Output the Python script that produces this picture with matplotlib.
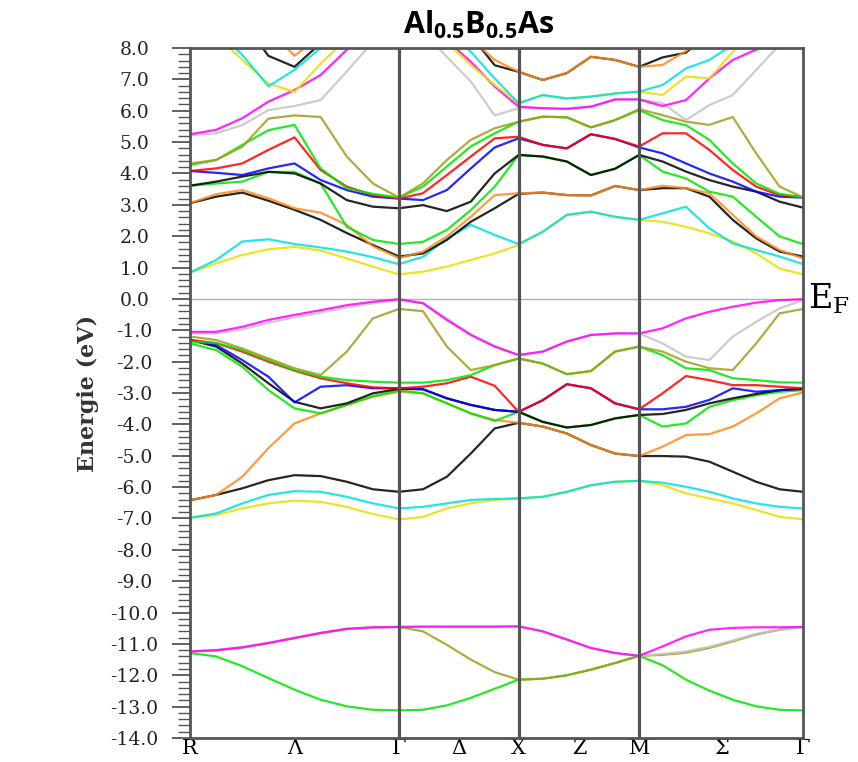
import numpy as np
import matplotlib
matplotlib.use('Agg')
import matplotlib.pyplot as plt
from matplotlib.ticker import MultipleLocator, FormatStrFormatter

plt.rcParams['axes.unicode_minus'] = False
plt.rcParams['mathtext.fontset'] = 'custom'
plt.rcParams['mathtext.rm'] = 'DejaVu Serif'
plt.rcParams['mathtext.bf'] = 'Open Sans:bold'

# high symmetry points and number of k-intervals per segment
k_sym = [0.0, 1.748, 2.748, 3.756, 5.126]
k_labels = ['R', 'Γ', 'X', 'M', 'Γ']
mid_labels = ['Λ', 'Δ', 'Z', 'Σ']
n_seg = [8, 5, 5, 7]

# energies (eV) read along R-G (9 pts), G-X (5), X-M (5), M-G (7)
green1 = [-11.29, -11.40, -11.71, -12.09, -12.46, -12.78, -12.99, -13.10, -13.12,
          -13.10, -12.96, -12.72, -12.43, -12.14,
          -12.11, -12.00, -11.82, -11.61, -11.38,
          -11.68, -12.14, -12.49, -12.78, -12.99, -13.10, -13.12]
olive1 = [-11.24, -11.21, -11.12, -10.98, -10.82, -10.66, -10.53, -10.48, -10.46,
          -10.60, -11.03, -11.50, -11.90, -12.14,
          -12.11, -12.00, -11.82, -11.61, -11.38,
          -11.35, -11.28, -11.13, -10.92, -10.70, -10.55, -10.46]
gray1 = [-11.24, -11.20, -11.11, -10.97, -10.81, -10.65, -10.52, -10.47, -10.46,
         -10.45, -10.45, -10.45, -10.45, -10.44,
         -10.60, -10.86, -11.13, -11.29, -11.38,
         -11.32, -11.24, -11.09, -10.89, -10.68, -10.54, -10.46]
magenta1 = [-11.24, -11.20, -11.11, -10.97, -10.81, -10.65, -10.52, -10.47, -10.46,
            -10.45, -10.45, -10.45, -10.45, -10.44,
            -10.60, -10.86, -11.13, -11.29, -11.38,
            -11.08, -10.76, -10.55, -10.49, -10.47, -10.47, -10.46]

yellow2 = [-6.98, -6.89, -6.68, -6.52, -6.43, -6.47, -6.63, -6.86, -7.03,
           -6.95, -6.68, -6.52, -6.41, -6.36,
           -6.31, -6.15, -5.94, -5.83, -5.80,
           -5.94, -6.20, -6.36, -6.52, -6.73, -6.95, -7.03]
cyan2 = [-6.98, -6.84, -6.52, -6.25, -6.13, -6.15, -6.31, -6.52, -6.68,
         -6.63, -6.52, -6.41, -6.38, -6.36,
         -6.31, -6.15, -5.94, -5.83, -5.80,
         -5.86, -5.99, -6.15, -6.36, -6.52, -6.63, -6.68]
black2 = [-6.42, -6.25, -6.04, -5.78, -5.62, -5.65, -5.83, -6.07, -6.15,
          -6.07, -5.67, -4.93, -4.13, -3.95,
          -4.07, -4.29, -4.66, -4.93, -5.01,
          -5.01, -5.03, -5.19, -5.51, -5.83, -6.07, -6.15]
orange2 = [-6.42, -6.25, -5.67, -4.76, -3.97, -3.65, -3.38, -3.12, -2.96,
           -3.01, -3.33, -3.65, -3.86, -3.95,
           -4.07, -4.29, -4.66, -4.93, -5.01,
           -4.71, -4.34, -4.31, -4.07, -3.65, -3.17, -2.98]
green2_lo = [-1.42, -1.63, -2.16, -2.91, -3.49, -3.65, -3.38, -3.10, -2.92,
             -3.01, -3.33, -3.65, -3.89, -3.60,
             -3.92, -4.10, -4.02, -3.81, -3.70,
             -4.07, -3.97, -3.44, -3.23, -3.07, -2.96, -2.91]
black2_mid = [-1.31, -1.52, -2.06, -2.69, -3.28, -3.49, -3.33, -3.01, -2.87,
              -2.88, -3.17, -3.38, -3.54, -3.60,
              -3.92, -4.10, -4.02, -3.81, -3.70,
              -3.67, -3.54, -3.33, -3.17, -3.03, -2.91, -2.87]
blue2 = [-1.31, -1.47, -1.95, -2.48, -3.30, -2.80, -2.75, -2.85, -2.85,
         -2.88, -3.17, -3.38, -3.54, -3.60,
         -3.23, -2.72, -2.85, -3.33, -3.52,
         -3.52, -3.44, -3.22, -2.85, -2.96, -2.91, -2.85]
red2 = [-1.31, -1.41, -1.68, -2.00, -2.29, -2.53, -2.69, -2.82, -2.85,
        -2.80, -2.69, -2.48, -2.77, -3.60,
        -3.23, -2.72, -2.85, -3.33, -3.52,
        -3.01, -2.46, -2.59, -2.75, -2.75, -2.80, -2.85]
green2_up = [-1.36, -1.41, -1.63, -1.95, -2.27, -2.48, -2.59, -2.64, -2.67,
             -2.67, -2.59, -2.43, -2.11, -1.90,
             -2.06, -2.40, -2.30, -1.68, -1.52,
             -1.79, -2.21, -2.27, -2.53, -2.59, -2.66, -2.67]
olive2 = [-1.20, -1.31, -1.58, -1.90, -2.21, -2.43, -1.68, -0.62, -0.32,
          -0.39, -1.52, -2.27, -2.11, -1.90,
          -2.06, -2.40, -2.30, -1.68, -1.52,
          -1.68, -2.00, -2.21, -2.27, -1.42, -0.46, -0.32]
gray2 = [-1.10, -1.10, -0.97, -0.76, -0.59, -0.44, -0.27, -0.14, -0.04,
         -0.12, -0.62, -1.12, -1.50, -1.79,
         -1.68, -1.36, -1.15, -1.10, -1.10,
         -1.42, -1.84, -1.95, -1.20, -0.73, -0.30, -0.04]
magenta2 = [-1.05, -1.05, -0.89, -0.67, -0.51, -0.36, -0.20, -0.09, -0.01,
            -0.14, -0.67, -1.15, -1.52, -1.79,
            -1.68, -1.36, -1.15, -1.10, -1.10,
            -0.94, -0.62, -0.41, -0.25, -0.12, -0.04, -0.01]

yellow3 = [0.84, 1.13, 1.40, 1.58, 1.66, 1.54, 1.29, 1.03, 0.78,
           0.87, 1.03, 1.24, 1.45, 1.72,
           2.14, 2.68, 2.78, 2.62, 2.52,
           2.46, 2.30, 2.09, 1.83, 1.45, 0.97, 0.78]
cyan3 = [0.84, 1.24, 1.83, 1.90, 1.75, 1.64, 1.51, 1.33, 1.11,
         1.34, 1.93, 2.36, 2.04, 1.75,
         2.14, 2.68, 2.78, 2.62, 2.52,
         2.73, 2.94, 2.25, 1.77, 1.56, 1.35, 1.11]
black3 = [3.05, 3.26, 3.39, 3.13, 2.84, 2.52, 2.10, 1.72, 1.35,
          1.45, 1.88, 2.46, 2.89, 3.35,
          3.39, 3.31, 3.30, 3.60, 3.47,
          3.53, 3.53, 3.26, 2.52, 1.93, 1.51, 1.35]
orange3 = [3.05, 3.34, 3.47, 3.21, 2.89, 2.75, 2.36, 1.68, 1.30,
           1.51, 1.99, 2.62, 3.31, 3.37,
           3.39, 3.31, 3.30, 3.60, 3.47,
           3.61, 3.53, 3.37, 2.68, 1.99, 1.56, 1.29]
green3_lo = [3.61, 3.68, 3.74, 4.05, 4.05, 3.68, 2.30, 1.88, 1.75,
             1.82, 2.20, 2.83, 3.58, 4.59,
             4.54, 4.38, 3.95, 4.15, 4.59,
             4.06, 3.84, 3.42, 3.26, 2.62, 1.99, 1.75]
black3_up = [3.61, 3.74, 3.90, 4.05, 4.00, 3.68, 3.15, 2.94, 2.89,
             2.99, 2.80, 3.10, 4.00, 4.59,
             4.54, 4.38, 3.95, 4.15, 4.59,
             4.38, 4.06, 3.79, 3.58, 3.42, 3.10, 2.91]
blue3 = [4.08, 4.02, 3.95, 4.16, 4.32, 3.79, 3.47, 3.26, 3.20,
         3.15, 3.47, 4.16, 4.83, 5.12,
         4.91, 4.80, 5.25, 5.10, 4.83,
         4.64, 4.32, 4.00, 3.74, 3.42, 3.26, 3.23]
red3 = [4.08, 4.16, 4.32, 4.75, 5.15, 4.11, 3.58, 3.31, 3.20,
        3.37, 3.95, 4.54, 5.12, 5.17,
        4.91, 4.80, 5.25, 5.10, 4.86,
        5.28, 5.28, 4.75, 4.11, 3.58, 3.31, 3.24]
green3_up = [4.27, 4.43, 4.91, 5.38, 5.55, 4.16, 3.53, 3.35, 3.23,
             3.58, 4.22, 4.86, 5.28, 5.65,
             5.81, 5.79, 5.47, 5.70, 6.02,
             5.70, 5.54, 5.07, 4.32, 3.68, 3.35, 3.24]
olive3 = [4.32, 4.43, 4.85, 5.75, 5.85, 5.80, 4.54, 3.68, 3.23,
          3.68, 4.43, 5.07, 5.44, 5.65,
          5.81, 5.79, 5.47, 5.70, 6.05,
          5.86, 5.65, 5.55, 5.80, 4.64, 3.58, 3.24]
gray3 = [5.22, 5.28, 5.54, 6.02, 6.15, 6.34, 7.25, 8.20, 9.00,
         8.50, 7.72, 6.93, 5.85, 6.08,
         6.08, 6.06, 6.13, 6.36, 6.36,
         6.24, 5.70, 6.18, 6.50, 7.30, 8.10, 9.00]
magenta3 = [5.25, 5.39, 5.76, 6.29, 6.66, 7.14, 7.94, 8.70, 9.40,
            9.00, 8.25, 7.56, 6.77, 6.13,
            6.08, 6.06, 6.13, 6.36, 6.36,
            6.15, 6.34, 7.03, 7.62, 7.95, 8.50, 9.00]
yellow4 = [9.60, 8.40, 7.62, 6.87, 6.60, 7.50, 8.30, 9.00, 9.60,
           8.90, 8.18, 7.46, 6.82, 6.24,
           6.50, 6.39, 6.45, 6.55, 6.61,
           6.50, 7.09, 7.03, 7.88, 8.50, 9.00, 9.60]
cyan4 = [9.40, 8.60, 7.78, 6.78, 7.30, 8.00, 8.80, 9.40, 9.80,
         9.30, 8.60, 7.88, 7.03, 6.24,
         6.50, 6.39, 6.45, 6.55, 6.61,
         6.82, 7.35, 7.62, 8.10, 8.60, 9.10, 9.60]
black4 = [10.0, 9.50, 8.90, 7.75, 7.40, 8.15, 8.80, 9.30, 9.80,
          9.80, 9.20, 8.40, 7.45, 7.24,
          6.98, 7.20, 7.72, 7.62, 7.40,
          7.70, 7.85, 8.50, 9.00, 9.50, 10.0, 10.5]
orange4 = [10.0, 9.60, 9.20, 8.60, 7.75, 8.40, 9.00, 9.50, 10.0,
           9.60, 9.00, 8.30, 7.62, 7.24,
           6.98, 7.20, 7.72, 7.62, 7.40,
           7.46, 7.90, 8.50, 9.00, 9.50, 10.0, 10.5]

GREEN = '#00e600'
OLIVE = '#a39d1c'
GRAY = '#c4c4c4'
MAGENTA = '#ff00ff'
YELLOW = '#e8e000'
CYAN = '#00e0e0'
BLACK = '#000000'
ORANGE = '#ff8a1a'
BLUE = '#0000ff'
RED = '#ff0000'

bands = [
    (green1, GREEN), (olive1, OLIVE), (gray1, GRAY), (magenta1, MAGENTA),
    (yellow2, YELLOW), (cyan2, CYAN), (black2, BLACK), (orange2, ORANGE),
    (green2_lo, GREEN), (black2_mid, BLACK), (blue2, BLUE), (red2, RED),
    (green2_up, GREEN), (olive2, OLIVE), (gray2, GRAY), (magenta2, MAGENTA),
    (yellow3, YELLOW), (cyan3, CYAN), (black3, BLACK), (orange3, ORANGE),
    (green3_lo, GREEN), (black3_up, BLACK), (blue3, BLUE), (red3, RED),
    (green3_up, GREEN), (olive3, OLIVE), (gray3, GRAY), (magenta3, MAGENTA),
    (yellow4, YELLOW), (cyan4, CYAN), (black4, BLACK), (orange4, ORANGE),
]

# k grid
k = [k_sym[0]]
for i, n in enumerate(n_seg):
    k.extend(np.linspace(k_sym[i], k_sym[i + 1], n + 1)[1:])
k = np.array(k)

fig = plt.figure(figsize=(8.58, 7.62), dpi=100)
ax = fig.add_axes([190 / 858, 1 - 738 / 762, 613 / 858, 690 / 762])

for vals, col in bands:
    ax.plot(k, vals, color=col, lw=1.6, alpha=0.85, solid_joinstyle='round')

ax.axhline(0.0, color='#b0b0b0', lw=1.0, zorder=0)
for kk in k_sym[1:-1]:
    ax.axvline(kk, color='#555555', lw=2.3, zorder=5)

ax.set_xlim(k_sym[0], k_sym[-1])
ax.set_ylim(-14, 8)

mids = [(k_sym[i] + k_sym[i + 1]) / 2 for i in range(4)]
ticks = k_sym + mids
labels = k_labels + mid_labels
ax.set_xticks(ticks)
ax.set_xticklabels(labels, fontfamily='DejaVu Serif', fontsize=15)
ax.tick_params(axis='x', length=0, pad=1)

ax.yaxis.set_major_locator(MultipleLocator(1.0))
ax.yaxis.set_minor_locator(MultipleLocator(0.2))
ax.yaxis.set_major_formatter(FormatStrFormatter('%.1f'))
ax.tick_params(axis='y', which='major', direction='out', length=13, width=1.3,
               color='#555555', pad=27, labelsize=13.5)
ax.tick_params(axis='y', which='minor', direction='out', length=9, width=1.0,
               color='#555555')
for lab in ax.get_yticklabels():
    lab.set_fontfamily('DejaVu Serif')
    lab.set_color('#222222')
    lab.set_horizontalalignment('center')

for sp in ax.spines.values():
    sp.set_color('#555555')
    sp.set_linewidth(2)

ax.set_ylabel('Energie (eV)', fontfamily='DejaVu Serif', fontweight='bold',
              fontsize=16, color='#333333', labelpad=8)

ax.text(1.008, 0.0, r'$\mathrm{E_F}$', transform=ax.get_yaxis_transform(),
        fontsize=24, va='center', ha='left')

fig.text(0.558, 0.967, r'$\mathbf{Al_{0.5}B_{0.5}As}$', fontsize=22,
         ha='center', va='center')

fig.savefig('out.png', dpi=100)
